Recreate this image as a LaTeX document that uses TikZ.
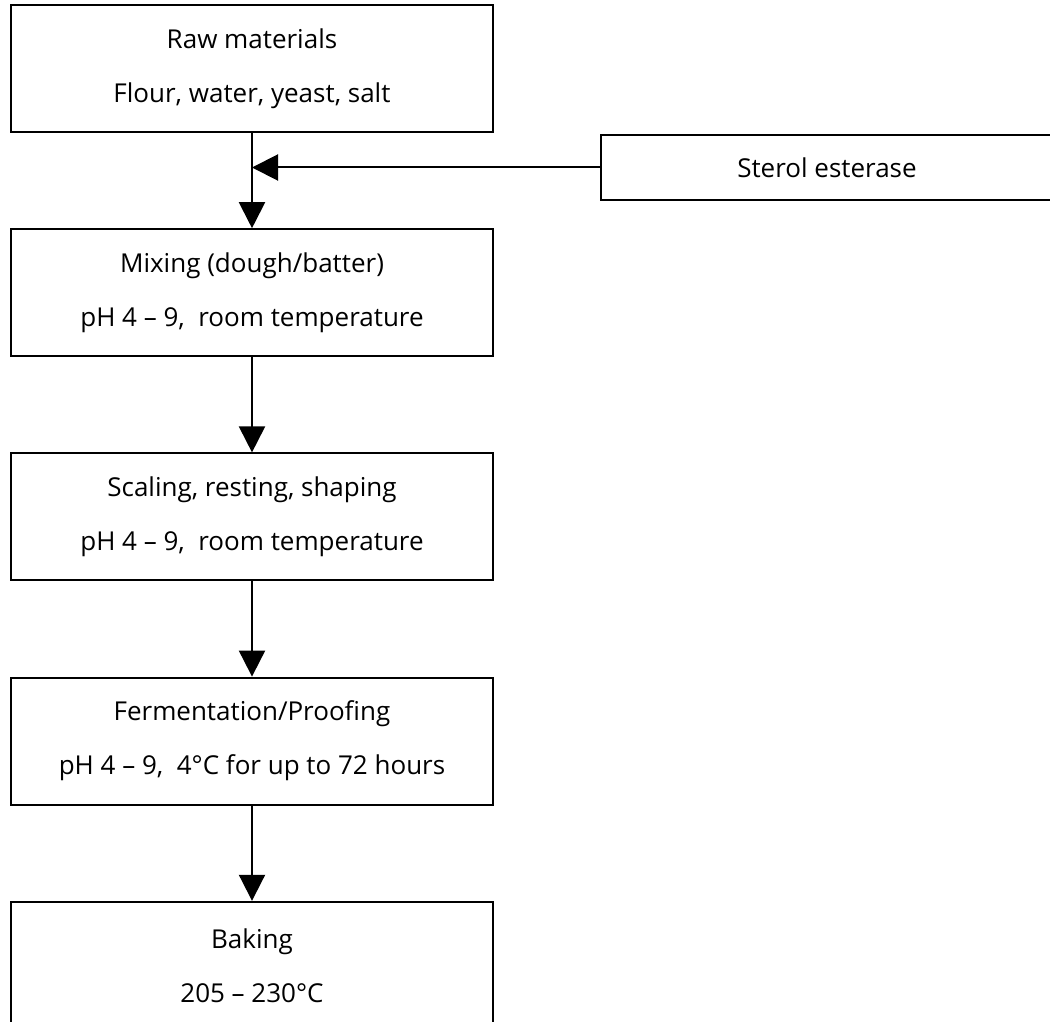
\documentclass[tikz,border=0pt]{standalone}
\usepackage{fontspec}
\setmainfont{Open Sans}
\usetikzlibrary{positioning,arrows.meta}

\begin{document}
\begin{tikzpicture}
  [ line width=1pt, node distance=47.6pt,
    stage/.style={draw, rectangle, minimum width=241pt, minimum height=63.5pt,
      align=center, font=\fontsize{13}{27}\selectfont},
    enzyme/.style={draw, rectangle, minimum width=226pt, minimum height=32.5pt,
      font=\fontsize{13}{16}\selectfont},
    flow/.style={-{Triangle[length=13pt,width=13pt]}}]
	\useasboundingbox (0,0) rectangle (525pt,-511pt);

	\node [stage, name=raw] at (126pt,-34.25pt) {Raw materials\\Flour, water, yeast, salt};
	\node [stage, name=mix, below=of raw] {Mixing (dough/batter)\\pH 4 – 9,\ \ room temperature};
	\node [stage, name=scale, below=of mix] {Scaling, resting, shaping\\pH 4 – 9,\ \ room temperature};
	\node [stage, name=ferm, below=of scale] {Fermentation/Proofing\\pH 4 – 9,\ \ 4°C for up to 72 hours};
	\node [stage, name=bake, below=of ferm] {Baking\\205 – 230°C};

	\node [enzyme, name=sterol, anchor=west] at (300pt,-83.75pt) {Sterol esterase};
	\coordinate (join) at (raw.south |- sterol.west);

	\path [flow] (sterol) edge (join)
				(raw) edge (mix)
				(mix) edge (scale)
				(scale) edge (ferm)
				(ferm) edge (bake);
\end{tikzpicture}
\end{document}
